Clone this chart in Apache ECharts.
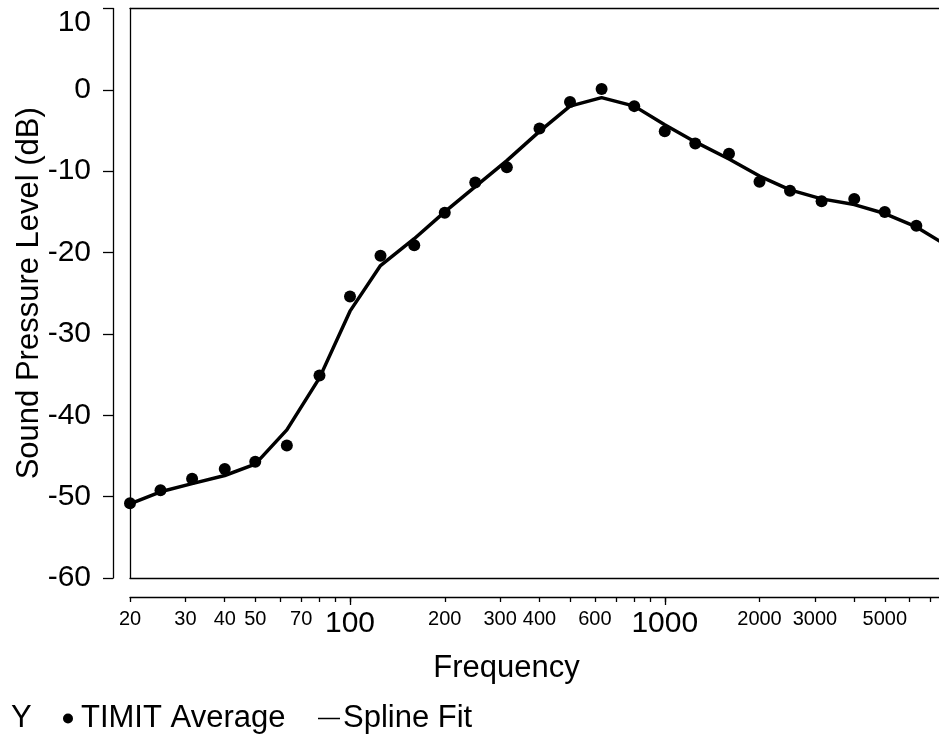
<!DOCTYPE html>
<html>
<head>
<meta charset="utf-8">
<script src="https://cdn.jsdelivr.net/npm/echarts@6/dist/echarts.min.js"></script>
<style>
  html, body { margin: 0; padding: 0; background: #fff; overflow: hidden; }
  #chart { width: 939px; height: 736px; }
</style>
</head>
<body>
<div id="chart"></div>
<script>
// One-third-octave band centre frequencies (Hz)
const frequencies = [20, 25, 31.5, 40, 50, 63, 80, 100, 125, 160, 200, 250, 315, 400,
  500, 630, 800, 1000, 1250, 1600, 2000, 2500, 3150, 4000, 5000, 6300];

// Measured band levels (dB)
const timitAverage = [-50.8, -49.2, -47.8, -46.6, -45.7, -43.7, -35.1, -25.4, -20.4, -19.1,
  -15.1, -11.4, -9.5, -4.75, -1.5, 0.1, -2.0, -5.1, -6.6, -7.85, -11.3, -12.4, -13.7, -13.4,
  -15.0, -16.7];

// Smoothed curve evaluated at the band centres plus the top of the range
const splineFrequencies = [20, 25, 31.5, 40, 50, 63, 80, 100, 125, 160, 200, 250, 315, 400,
  500, 630, 800, 1000, 1250, 1600, 2000, 2500, 3150, 4000, 5000, 6300, 8000];
const splineFit = [-50.9, -49.4, -48.4, -47.4, -46.0, -41.8, -35.4, -27.2, -21.6, -18.3,
  -15.0, -11.9, -8.7, -5.1, -2.0, -0.95, -2.0, -4.3, -6.4, -8.5, -10.6, -12.3, -13.4, -14.1,
  -15.2, -16.85, -19.3];

// Axis ticks and labels
const xTickValues = [20, 30, 40, 50, 60, 70, 80, 90, 100, 200, 300, 400, 500, 600, 700, 800,
  900, 1000, 2000, 3000, 4000, 5000, 6000, 7000];
const xLabelValues = [20, 30, 40, 50, 70, 100, 200, 300, 400, 600, 1000, 2000, 3000, 5000];
const xMajorValues = [100, 1000];
const xRange = [20, 8000];
const yRange = [-60, 10];
const yStep = 10;

const FONT = '"Liberation Sans", Arial, Helvetica, sans-serif';
const INK = '#000';
const LINE_W = 1.3;

const chart = echarts.init(document.getElementById('chart'), null, { renderer: 'canvas' });

const pairs = (xs, ys) => xs.map((x, i) => [x, ys[i]]);

// plain frame edge: axis line only
const frameX = (position) => ({
  type: 'log', logBase: 10, min: xRange[0], max: xRange[1], position, offset: 0,
  axisLine: { show: true, onZero: false, lineStyle: { color: INK, width: LINE_W } },
  axisTick: { show: false }, axisLabel: { show: false }, splitLine: { show: false }
});

chart.setOption({
  animation: false,
  backgroundColor: '#fff',
  title: {
    text: 'Y',
    left: 11,
    top: 703,
    padding: 0,
    textStyle: { fontSize: 31, fontWeight: 'normal', color: INK, fontFamily: FONT }
  },
  legend: [
    {
      data: [{ name: 'TIMIT Average', icon: 'circle' }],
      left: 63,
      top: 703,
      padding: 0,
      itemWidth: 10,
      itemHeight: 10,
      textStyle: { fontSize: 31, color: INK, fontFamily: FONT, padding: [0, 0, 0, 3] }
    },
    {
      data: [{ name: 'Spline Fit', icon: 'rect' }],
      left: 318,
      top: 703,
      padding: 0,
      itemWidth: 22,
      itemHeight: 1.5,
      textStyle: { fontSize: 31, color: INK, fontFamily: FONT, padding: [0, 0, 0, -2] }
    }
  ],
  grid: {
    left: 130,
    top: 8.5,
    right: -10,
    bottom: 158,
    outerBoundsMode: 'none',
    containLabel: false,
    show: false
  },
  xAxis: [
    {
      type: 'log',
      logBase: 10,
      min: xRange[0],
      max: xRange[1],
      position: 'bottom',
      offset: 19,
      axisLine: { show: true, onZero: false, lineStyle: { color: INK, width: LINE_W } },
      axisTick: { show: true, length: 5, customValues: xTickValues, lineStyle: { color: INK, width: LINE_W } },
      axisLabel: {
        customValues: xLabelValues,
        margin: 12,
        color: INK,
        fontFamily: FONT,
        fontSize: 20,
        formatter: (v) => {
          const n = Math.round(v);
          return xMajorValues.includes(n) ? '{big|' + n + '}' : String(n);
        },
        rich: { big: { fontSize: 30, fontFamily: FONT, color: INK } }
      },
      splitLine: { show: false },
      minorTick: { show: false },
      name: 'Frequency',
      nameLocation: 'middle',
      nameGap: 56,
      nameMoveOverlap: false,
      nameTextStyle: { fontSize: 31, color: INK, fontFamily: FONT, padding: [0, 66, 0, 0] }
    },
    {
      // longer ticks at the decades
      type: 'log',
      logBase: 10,
      min: xRange[0],
      max: xRange[1],
      position: 'bottom',
      offset: 19,
      axisLine: { show: false, onZero: false },
      axisTick: { show: true, length: 8, customValues: xMajorValues, lineStyle: { color: INK, width: LINE_W } },
      axisLabel: { show: false },
      splitLine: { show: false }
    },
    frameX('bottom'),
    frameX('top')
  ],
  yAxis: [
    {
      type: 'value',
      min: yRange[0],
      max: yRange[1],
      interval: yStep,
      position: 'left',
      offset: 17,
      axisLine: { show: true, onZero: false, lineStyle: { color: INK, width: LINE_W } },
      axisTick: { show: true, length: 10, lineStyle: { color: INK, width: LINE_W } },
      axisLabel: {
        margin: 22,
        color: INK,
        fontSize: 30,
        fontFamily: FONT,
        // the topmost label sits a little below its tick
        formatter: (v) => (v === yRange[1] ? '{top|' + v + '}' : String(v)),
        rich: { top: { fontSize: 30, fontFamily: FONT, color: INK, padding: [28, 0, 0, 0] } }
      },
      splitLine: { show: false },
      name: 'Sound Pressure Level (dB)',
      nameLocation: 'middle',
      nameRotate: 90,
      nameGap: 68,
      nameMoveOverlap: false,
      nameTextStyle: { fontSize: 31, color: INK, fontFamily: FONT }
    },
    {
      // left edge of the plot frame
      type: 'value',
      min: yRange[0],
      max: yRange[1],
      interval: yStep,
      position: 'left',
      offset: 0,
      axisLine: { show: true, onZero: false, lineStyle: { color: INK, width: LINE_W } },
      axisTick: { show: false },
      axisLabel: { show: false },
      splitLine: { show: false }
    }
  ],
  series: [
    {
      name: 'Spline Fit',
      type: 'line',
      xAxisIndex: 0,
      yAxisIndex: 0,
      data: pairs(splineFrequencies, splineFit),
      symbol: 'none',
      color: INK,
      lineStyle: { color: INK, width: 3.5 },
      clip: true,
      z: 2
    },
    {
      name: 'TIMIT Average',
      type: 'scatter',
      xAxisIndex: 0,
      yAxisIndex: 0,
      data: pairs(frequencies, timitAverage),
      symbol: 'circle',
      symbolSize: 12,
      color: INK,
      itemStyle: { color: INK, opacity: 1 },
      clip: true,
      z: 3
    }
  ]
});
</script>
</body>
</html>
